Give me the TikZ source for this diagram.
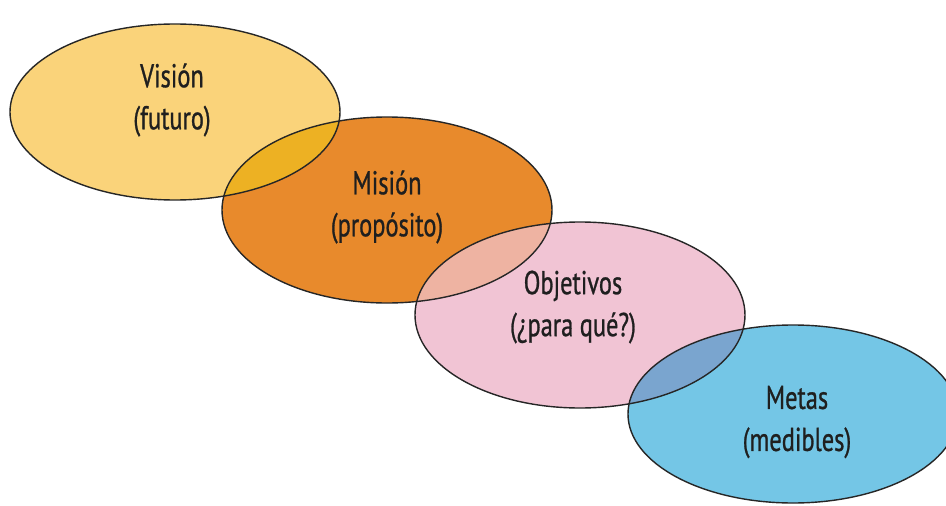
\documentclass[tikz,border=0pt]{standalone}
\usepackage{fontspec}
\setmainfont{PT Sans}[FakeStretch=0.74,FakeBold=0.8]
\begin{document}
\begin{tikzpicture}[x=1pt,y=-1pt,
  lbl/.style={font=\fontsize{33}{42}\selectfont, align=center, text=black!88},
  outline/.style={draw=black!85, line width=1.4pt}]
\definecolor{cvis}{HTML}{FAD37A}
\definecolor{cmis}{HTML}{E88A2C}
\definecolor{cobj}{HTML}{F1C4D4}
\definecolor{cmet}{HTML}{74C6E6}
\definecolor{cvm}{HTML}{EDB123}
\definecolor{cmo}{HTML}{EEB3A2}
\definecolor{com}{HTML}{7AA5CF}
\useasboundingbox (0,0) rectangle (946,506);
\fill[white] (0,0) rectangle (946,506);
% base fills
\fill[cvis] (175,112) ellipse [x radius=165, y radius=88];
\fill[cmis] (387,210) ellipse [x radius=165, y radius=93];
\fill[cobj] (580,315) ellipse [x radius=165, y radius=93];
\fill[cmet] (793,414) ellipse [x radius=165, y radius=89];
% overlaps
\begin{scope}
  \clip (175,112) ellipse [x radius=165, y radius=88];
  \fill[cvm] (387,210) ellipse [x radius=165, y radius=93];
\end{scope}
\begin{scope}
  \clip (387,210) ellipse [x radius=165, y radius=93];
  \fill[cmo] (580,315) ellipse [x radius=165, y radius=93];
\end{scope}
\begin{scope}
  \clip (580,315) ellipse [x radius=165, y radius=93];
  \fill[com] (793,414) ellipse [x radius=165, y radius=89];
\end{scope}
% outlines
\draw[outline] (175,112) ellipse [x radius=165, y radius=88];
\draw[outline] (387,210) ellipse [x radius=165, y radius=93];
\draw[outline] (580,315) ellipse [x radius=165, y radius=93];
\draw[outline] (793,414) ellipse [x radius=165, y radius=89];
% labels
\node[lbl] (vis) at (172,100) {Visión\\(futuro)};
\node[lbl] (mis) at (387,207) {Misión\\(propósito)};
\node[lbl] (obj) at (573,307) {Objetivos\\(¿para qué?)};
\node[lbl] (met) at (797,422) {Metas\\(medibles)};
\end{tikzpicture}
\end{document}
